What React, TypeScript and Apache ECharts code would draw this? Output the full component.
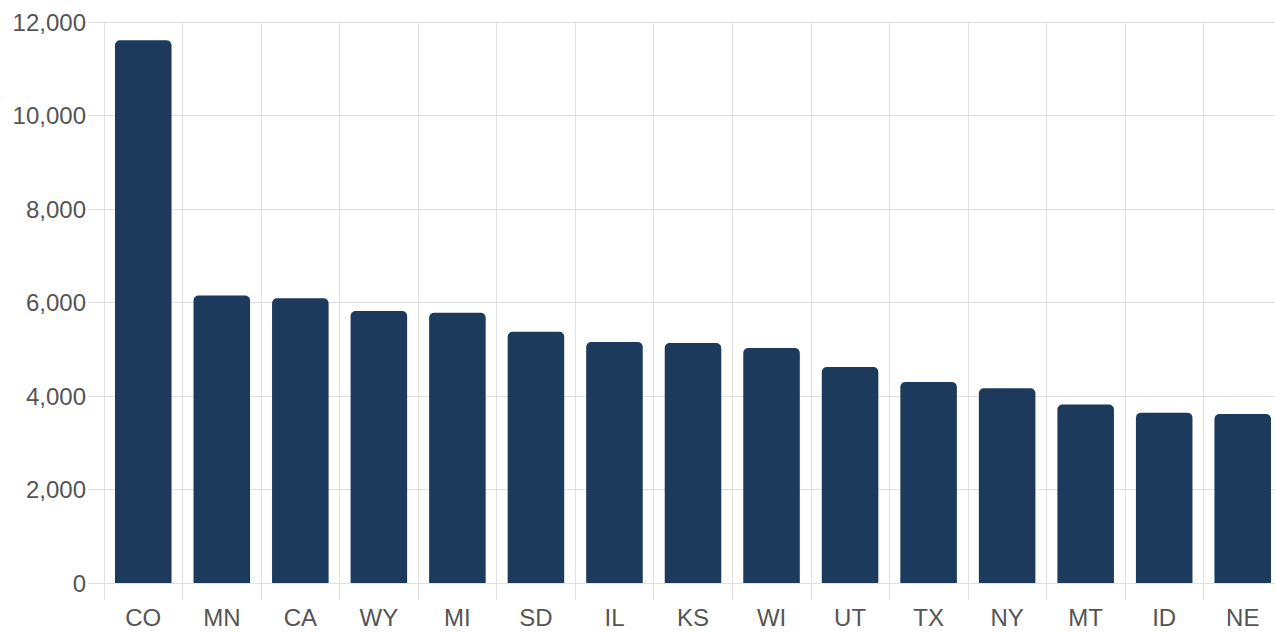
import React, { useEffect, useRef } from "react";
import * as echarts from "echarts";

const categories = ["CO", "MN", "CA", "WY", "MI", "SD", "IL", "KS", "WI", "UT", "TX", "NY", "MT", "ID", "NE"];
const values = [11610, 6150, 6090, 5820, 5780, 5375, 5155, 5135, 5025, 4620, 4300, 4165, 3820, 3640, 3615];
const yMin = 0;
const yMax = 12000;
const yInterval = 2000;

const GRID = "#e0e0e0";
const LABEL = "#555555";
const BAR = "#1b3a5c";
const FONT = "'Liberation Sans', Arial, Helvetica, sans-serif";

export default function App() {
  const ref = useRef<HTMLDivElement>(null);
  useEffect(() => {
    if (!ref.current) return;
    const chart = echarts.init(ref.current, undefined, { renderer: "svg" });
    chart.setOption({
      animation: false,
      grid: { left: 104, right: 0, top: 22, bottom: 49, containLabel: false },
      xAxis: {
        type: "category",
        data: categories,
        boundaryGap: true,
        axisLine: { show: true, lineStyle: { color: GRID, width: 1 } },
        axisTick: { show: true, length: 17, alignWithLabel: false, lineStyle: { color: GRID } },
        splitLine: { show: true, lineStyle: { color: GRID, width: 1 } },
        axisLabel: { color: LABEL, fontSize: 24, fontFamily: FONT, margin: 22 },
      },
      yAxis: {
        type: "value",
        min: yMin,
        max: yMax,
        interval: yInterval,
        axisLine: { show: true, lineStyle: { color: GRID, width: 1 } },
        axisTick: { show: true, length: 16, lineStyle: { color: GRID } },
        splitLine: { show: true, lineStyle: { color: GRID, width: 1 } },
        axisLabel: {
          color: LABEL,
          fontSize: 24,
          fontFamily: FONT,
          margin: 18,
          formatter: (v: number) => v.toLocaleString("en-US"),
        },
      },
      series: [
        {
          type: "bar",
          data: values,
          barWidth: "72%",
          itemStyle: { color: BAR, borderRadius: [5, 5, 0, 0] },
        },
      ],
    });
    return () => chart.dispose();
  }, []);
  return (
    <div
      style={{ position: "absolute", left: 0, top: 0, width: 1275, height: 632, overflow: "hidden", background: "#fff" }}
    >
      <div ref={ref} style={{ width: 1282, height: 632 }} />
    </div>
  );
}
